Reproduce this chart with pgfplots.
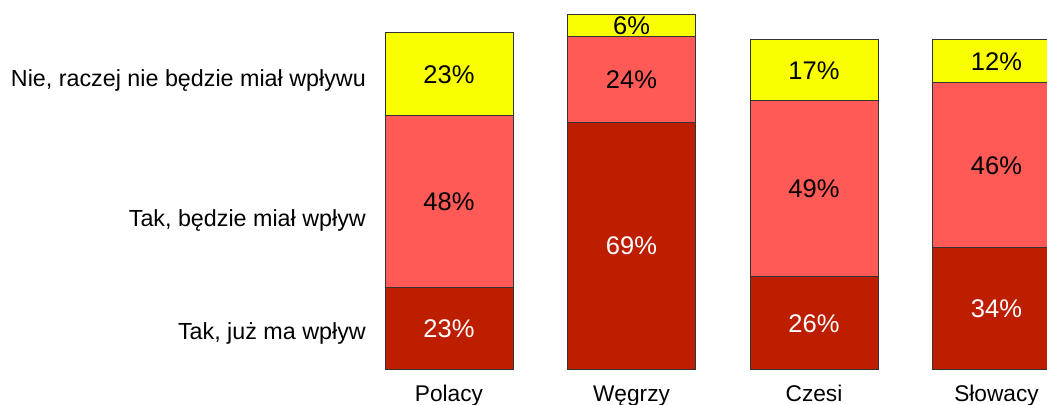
\documentclass[border=0pt]{standalone}
\usepackage{pgfplots}
\pgfplotsset{compat=1.18}
\usepackage{fontspec}
\setmainfont{Liberation Sans}
\definecolor{cyel}{RGB}{250,255,0}
\definecolor{clred}{RGB}{255,90,85}
\definecolor{cdred}{RGB}{190,30,0}
\begin{document}
\begin{tikzpicture}
\useasboundingbox (0,0) rectangle (1047bp,405bp);
\begin{axis}[
  at={(375bp,35.5bp)}, anchor=south west,
  x=182.5bp, y=3.583bp,
  xmin=-0.4055, xmax=3.2767, ymin=0, ymax=103.1,
  ybar stacked, bar width=128bp,
  axis line style={draw=none}, tick style={draw=none},
  clip=false,
  /pgf/number format/assume math mode=true,
  xtick={0,1,2,3},
  xticklabels={Polacy,Węgrzy,Czesi,Słowacy},
  xticklabel style={anchor=base, inner sep=0pt, yshift=-32.2bp, font=\fontsize{22.7bp}{26bp}\selectfont},
  ytick={8.5,39.85,79.1},
  yticklabels={{Tak, już ma wpływ},{Tak, będzie miał wpływ},{Nie, raczej nie będzie miał wpływu}},
  yticklabel style={anchor=base east, inner sep=0pt, xshift=-9bp, font=\fontsize{23.3bp}{26bp}\selectfont},
  visualization depends on=rawy \as \rawy,
  nodes near coords={\pgfmathprintnumber[assume math mode=true]{\rawy}\%},
  every node near coord/.append style={anchor=base, inner sep=0pt,
    font=\fontsize{25.5bp}{28bp}\selectfont, yshift=-9.1bp},
]
\addplot[fill=cdred, draw=black!80, line width=0.9bp,
  every node near coord/.append style={text=white}]
  coordinates {(0,23) (1,69) (2,26) (3,34)};
\addplot[fill=clred, draw=black!80, line width=0.9bp,
  every node near coord/.append style={text=black}]
  coordinates {(0,48) (1,24) (2,49) (3,46)};
\addplot[fill=cyel, draw=black!80, line width=0.9bp,
  every node near coord/.append style={text=black}]
  coordinates {(0,23) (1,6) (2,17) (3,12)};
\end{axis}
\end{tikzpicture}
\end{document}
